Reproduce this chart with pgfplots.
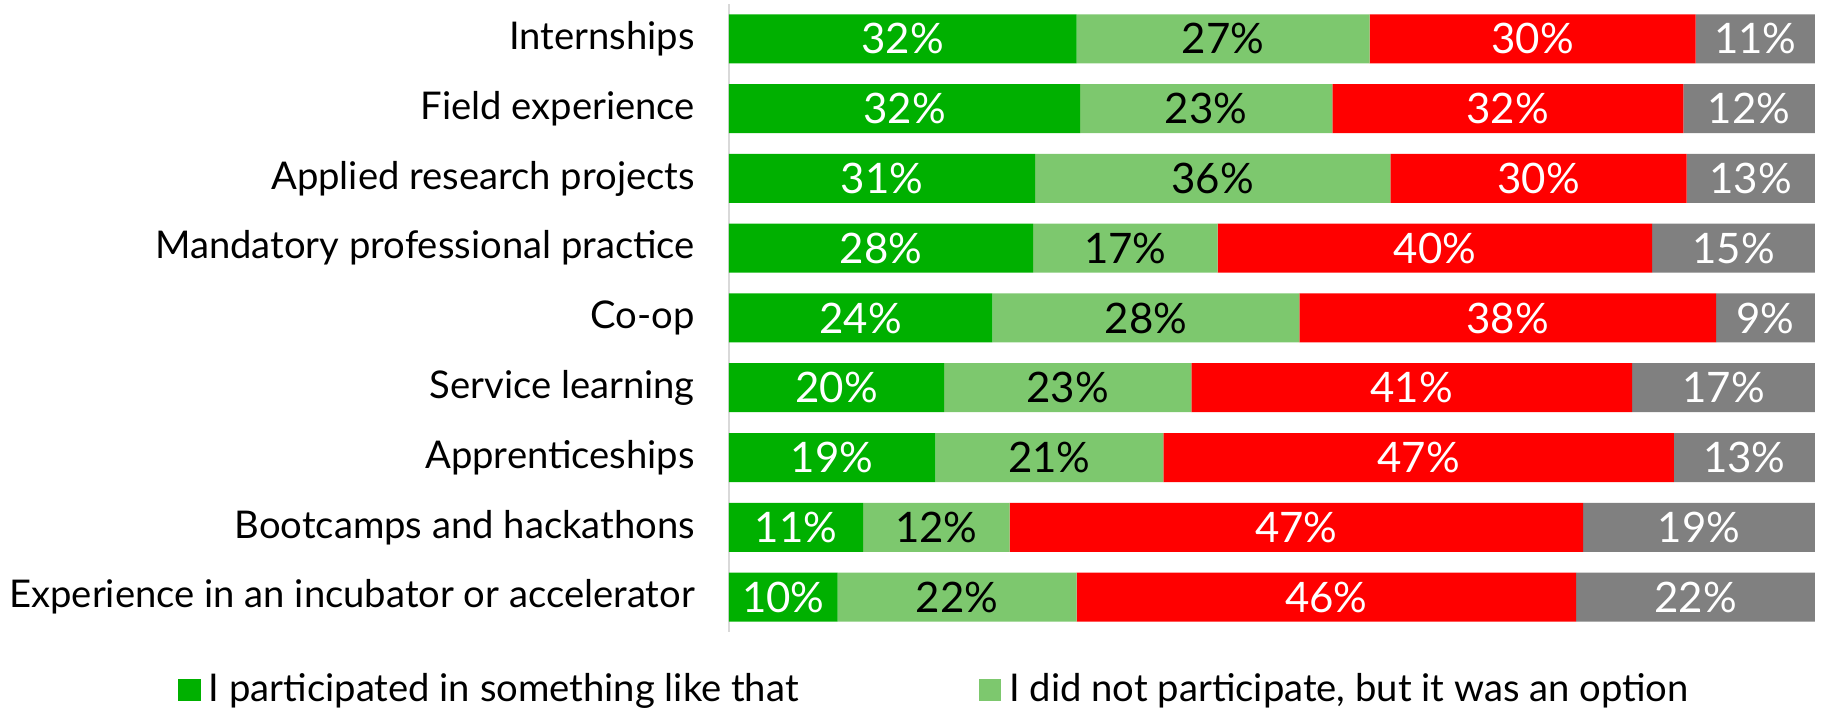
\documentclass[border=0pt]{standalone}
\usepackage{pgfplots}
\usepackage{pgfplotstable}
\usepackage{fontspec}
\setmainfont{Lato}
\pgfplotsset{compat=1.18}

\definecolor{dgreen}{RGB}{0,176,0}
\definecolor{lgreen}{RGB}{125,200,110}
\definecolor{sred}{RGB}{255,0,0}
\definecolor{sgray}{RGB}{128,128,128}

% labelled percentages; every bar is scaled to its own row total
\pgfplotstableread[col sep=comma]{
pos,part,option,notopt,other
8,32,27,30,11
7,32,23,32,12
6,31,36,30,13
5,28,17,40,15
4,24,28,38,9
3,20,23,41,17
2,19,21,47,13
1,11,12,47,19
0,10,22,46,22
}\data

\pgfplotsset{
    frame/.style={
        scale only axis,
        width=271.5pt, height=157pt,
        xmin=0, xmax=100,
        ymin=-0.5, ymax=8.5,
        enlargelimits=false,
    },
    % label in the middle of a segment
    mid/.style={draw=none, mark=none, nodes near coords={\pgfmathprintnumber{\pgfplotspointmeta}\%},
        every node near coord/.append style={font=\fontsize{10.5}{12}\selectfont, #1, anchor=center}},
}
\newcommand{\tot}{(\thisrow{part}+\thisrow{option}+\thisrow{notopt}+\thisrow{other})}

\begin{document}
\begin{tikzpicture}
\begin{axis}[
    frame,
    xbar stacked,
    bar width=12.25pt,
    axis x line=none,
    axis y line*=left,
    y axis line style={draw=black!15, line width=0.5pt},
    ytick={0,...,8},
    yticklabels={Experience in an incubator or accelerator, Bootcamps and hackathons, Apprenticeships, Service learning, Co-op, Mandatory professional practice, Applied research projects, Field experience, Internships},
    major tick length=0pt,
    y tick label style={font=\fontsize{9.55}{11}\selectfont, xshift=-5pt},
    legend columns=2,
    legend style={at={(-0.508,-0.0924)}, anchor=west, draw=none, fill=none, inner sep=0pt,
        font=\fontsize{9.55}{11}\selectfont, /tikz/every even column/.append style={column sep=43pt}},
    legend image code/.code={\fill[#1] (0pt,-2.85pt) rectangle (5.7pt,2.85pt);},
]
\addplot[fill=dgreen, draw=none] table[y=pos, x expr=\thisrow{part}/\tot*100] {\data};
\addplot[fill=lgreen, draw=none] table[y=pos, x expr=\thisrow{option}/\tot*100] {\data};
\addplot[fill=sred, draw=none] table[y=pos, x expr=\thisrow{notopt}/\tot*100] {\data};
\addplot[fill=sgray, draw=none] table[y=pos, x expr=\thisrow{other}/\tot*100] {\data};
\legend{I participated in something like that, {I did not participate, but it was an option}}
\coordinate (bbsw) at (rel axis cs:-0.6713,-0.1226);
\coordinate (bbne) at (rel axis cs:1.0083,1.0064);
\end{axis}
\begin{axis}[
    frame,
    hide axis,
    point meta=explicit,
    /pgf/number format/assume math mode=true,
]
\addplot[mid=white] table[y=pos, meta=part, x expr=\thisrow{part}/2/\tot*100] {\data};
\addplot[mid=black] table[y=pos, meta=option, x expr=(\thisrow{part}+\thisrow{option}/2)/\tot*100] {\data};
\addplot[mid=white] table[y=pos, meta=notopt, x expr=(\thisrow{part}+\thisrow{option}+\thisrow{notopt}/2)/\tot*100] {\data};
\addplot[mid=white] table[y=pos, meta=other, x expr=100-\thisrow{other}/2/\tot*100] {\data};
\end{axis}
\pgfresetboundingbox
\path[use as bounding box] (bbsw) rectangle (bbne);
\end{tikzpicture}
\end{document}
